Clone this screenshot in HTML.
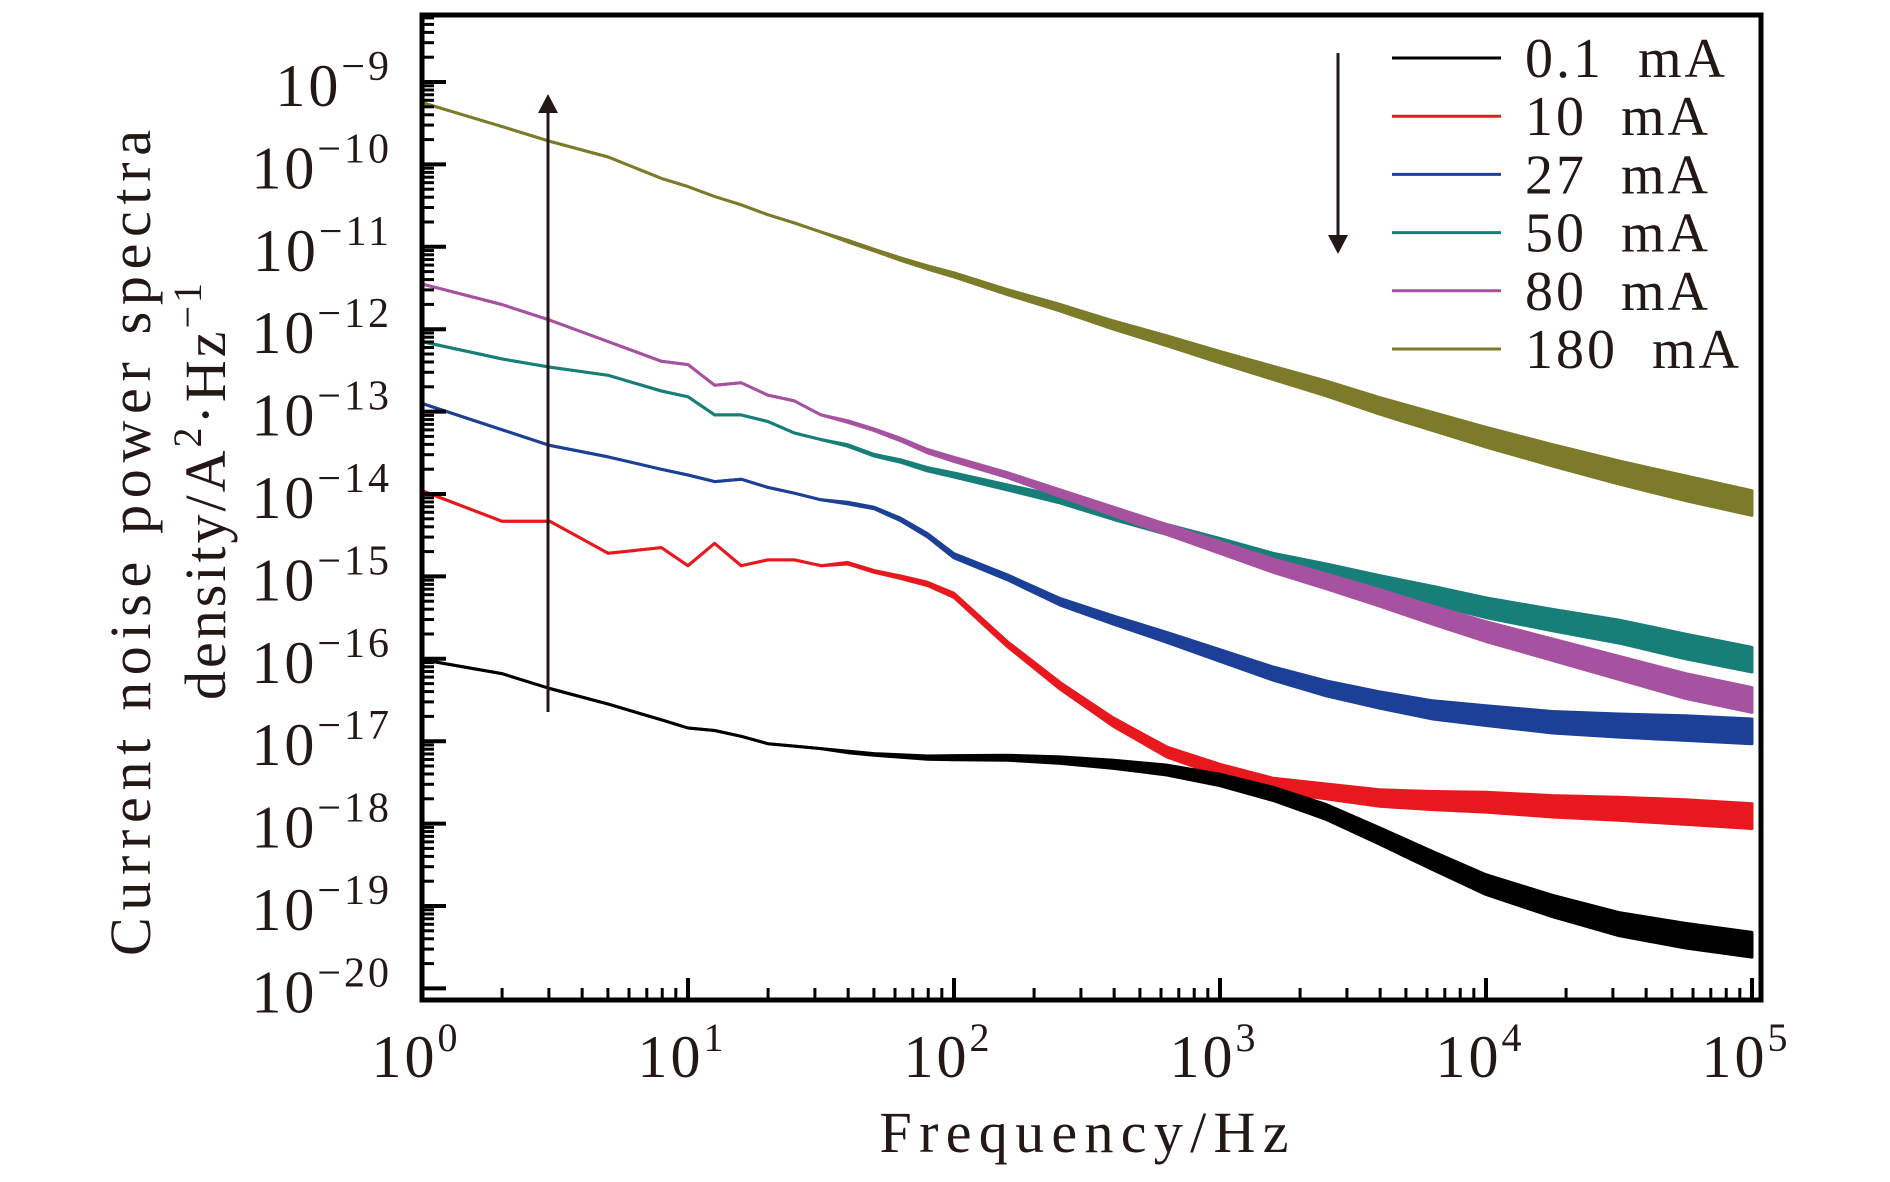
<!DOCTYPE html>
<html><head><meta charset="utf-8"><style>
html,body{margin:0;padding:0;background:#fff;}
svg{display:block;font-family:"Liberation Serif","DejaVu Serif",serif;}
</style></head><body>
<svg id="chart" width="1890" height="1182" viewBox="0 0 1890 1182" xmlns="http://www.w3.org/2000/svg">
<g id="series-layer"></g>
<rect x="422" y="15" width="1339" height="985" fill="none" stroke="#000" stroke-width="5"/>
<g id="axes-layer"></g>
<text transform="translate(150,543) rotate(-90)" text-anchor="middle" font-size="58" fill="#231815" textLength="826" lengthAdjust="spacing">Current noise power spectra</text>
<text transform="translate(225,490) rotate(-90)" text-anchor="middle" font-size="58" fill="#231815" letter-spacing="3">density/A<tspan font-size="40" dy="-24">2</tspan><tspan dy="24">·Hz</tspan><tspan font-size="40" dy="-24">−1</tspan></text>
<text x="1084" y="1152" text-anchor="middle" font-size="58" fill="#231815" textLength="409" lengthAdjust="spacing">Frequency/Hz</text>
<g id="legend"></g>
<g><line x1="548" y1="712" x2="548" y2="108" stroke="#231815" stroke-width="3"/><polygon points="548,94 538,113 558,113" fill="#231815"/></g>
<g><line x1="1338" y1="53" x2="1338" y2="240" stroke="#231815" stroke-width="3"/><polygon points="1338,254 1328,235 1348,235" fill="#231815"/></g>
</svg>
<script>
const freqLog = [0,0.3,0.48,0.7,0.9,1.0,1.1,1.2,1.3,1.4,1.5,1.6,1.7,1.8,1.9,2.0,2.2,2.4,2.6,2.8,3.0,3.2,3.4,3.6,3.8,4.0,4.25,4.5,4.75,5.0];
const psd01Log = [-16.01,-16.18,-16.36,-16.55,-16.74,-16.84,-16.87,-16.94,-17.03,-17.06,-17.09,-17.13,-17.16,-17.18,-17.2,-17.2,-17.2,-17.23,-17.28,-17.35,-17.47,-17.64,-17.86,-18.15,-18.45,-18.74,-19.0,-19.22,-19.36,-19.47];
const psd10Log = [-13.96,-14.33,-14.33,-14.72,-14.65,-14.87,-14.6,-14.87,-14.8,-14.8,-14.87,-14.84,-14.94,-15.01,-15.09,-15.23,-15.82,-16.33,-16.77,-17.13,-17.35,-17.53,-17.61,-17.69,-17.72,-17.74,-17.79,-17.82,-17.86,-17.91];
const psd27Log = [-12.9,-13.22,-13.41,-13.55,-13.7,-13.77,-13.85,-13.82,-13.92,-13.99,-14.07,-14.11,-14.17,-14.31,-14.5,-14.75,-15.01,-15.31,-15.53,-15.74,-15.96,-16.18,-16.36,-16.5,-16.62,-16.69,-16.77,-16.81,-16.84,-16.88];
const psd50Log = [-12.15,-12.36,-12.46,-12.56,-12.75,-12.82,-13.04,-13.04,-13.12,-13.26,-13.34,-13.41,-13.53,-13.6,-13.7,-13.77,-13.92,-14.07,-14.26,-14.43,-14.61,-14.8,-14.94,-15.09,-15.23,-15.38,-15.53,-15.67,-15.85,-16.01];
const psd80Log = [-11.45,-11.7,-11.89,-12.15,-12.39,-12.43,-12.68,-12.65,-12.8,-12.87,-13.04,-13.12,-13.22,-13.34,-13.48,-13.58,-13.77,-13.99,-14.21,-14.43,-14.65,-14.87,-15.06,-15.26,-15.47,-15.67,-15.89,-16.11,-16.33,-16.5];
const psd180Log = [-9.25,-9.54,-9.72,-9.91,-10.17,-10.27,-10.39,-10.49,-10.61,-10.71,-10.82,-10.93,-11.04,-11.15,-11.25,-11.34,-11.55,-11.74,-11.95,-12.14,-12.34,-12.53,-12.72,-12.93,-13.12,-13.31,-13.53,-13.74,-13.93,-14.11];
const bandHalf = [0,0,0,0,0,0,0,0,0,0,0,0.01,0.01,0.015,0.02,0.025,0.03,0.04,0.05,0.06,0.07,0.08,0.09,0.1,0.11,0.12,0.13,0.14,0.15,0.15];
const seriesLabels = ["0.1 mA","10 mA","27 mA","50 mA","80 mA","180 mA"];
const seriesColors = ["#000000","#e8191e","#1c3f97","#177f78","#a652a0","#7b7b2a"];
const xTickExp = [0,1,2,3,4,5];
const yTickExp = [-9,-10,-11,-12,-13,-14,-15,-16,-17,-18,-19,-20];

const NS="http://www.w3.org/2000/svg";
const X0=422, XD=266, Y0=82, YD=82.4;
function xs(l){return X0+l*XD;}
function ys(e){return Y0+(-9-e)*YD;}
function mk(t,p,attrs){const el=document.createElementNS(NS,t);for(const k in attrs)el.setAttribute(k,attrs[k]);p.appendChild(el);return el;}

const sl=document.getElementById('series-layer');
const allSeries=[psd01Log,psd10Log,psd27Log,psd50Log,psd80Log,psd180Log];
const names=["series-0-1ma","series-10ma","series-27ma","series-50ma","series-80ma","series-180ma"];
const drawOrder=[5,3,4,2,1,0];
drawOrder.forEach(i=>{
  const d=allSeries[i];
  const g=mk('g',sl,{});
  
  
  let up=[],dn=[],ln=[];
  for(let k=0;k<freqLog.length;k++){
    const x=xs(freqLog[k]);
    up.push(x.toFixed(1)+','+ys(d[k]+bandHalf[k]).toFixed(1));
    dn.unshift(x.toFixed(1)+','+ys(d[k]-bandHalf[k]).toFixed(1));
    ln.push(x.toFixed(1)+','+ys(d[k]).toFixed(1));
  }
  const band=mk('polygon',g,{points:up.concat(dn).join(' '),fill:seriesColors[i],stroke:seriesColors[i],'stroke-width':3,'stroke-linejoin':'round'});
  
  
  const line=mk('polyline',g,{points:ln.join(' '),fill:'none',stroke:seriesColors[i],'stroke-width':3,'stroke-linejoin':'round'});
  
  
});

const al=document.getElementById('axes-layer');
xTickExp.forEach(e=>{
  const x=xs(e);
  const t=mk('line',al,{x1:x,y1:1000,x2:x,y2:978,stroke:'#000','stroke-width':4});
  
  
  if(e<5){for(let m=2;m<10;m++){const xm=xs(e+Math.log10(m));
    const tm=mk('line',al,{x1:xm,y1:1000,x2:xm,y2:988,stroke:'#000','stroke-width':3});
    
    }}
  const lab=mk('text',al,{x:x-6,y:1077,'text-anchor':'middle','font-size':60,fill:'#231815','letter-spacing':3});
  
  
  lab.textContent='10';
  const sup=mk('tspan',lab,{'font-size':40,dy:-26});
  sup.textContent=String(e);
});
yTickExp.forEach(e=>{
  const y=ys(e);
  const t=mk('line',al,{x1:422,y1:y,x2:446,y2:y,stroke:'#000','stroke-width':4});
  
  
  for(let m=2;m<10;m++){const ym=ys(e+Math.log10(m));
    if(ym<17||ym>998)continue;
    const tm=mk('line',al,{x1:422,y1:ym,x2:434,y2:ym,stroke:'#000','stroke-width':3});
    
    }
  const lab=mk('text',al,{x:392,y:y+24,'text-anchor':'end','font-size':60,fill:'#231815','letter-spacing':3});
  
  
  lab.textContent='10';
  const sup=mk('tspan',lab,{'font-size':42,dy:-26});
  sup.textContent='−'+String(-e);
});
const lg=document.getElementById('legend');
seriesLabels.forEach((s,i)=>{
  const y=58+i*58.2;
  const g=mk('g',lg,{});
  
  
  mk('line',g,{x1:1392,y1:y,x2:1501,y2:y,stroke:seriesColors[i],'stroke-width':3});
  const t=mk('text',g,{x:1525,y:y+19,'font-size':56,fill:'#231815','letter-spacing':3});
  t.textContent=s.replace(' ','\u00a0\u00a0');
});
</script>
</body></html>
